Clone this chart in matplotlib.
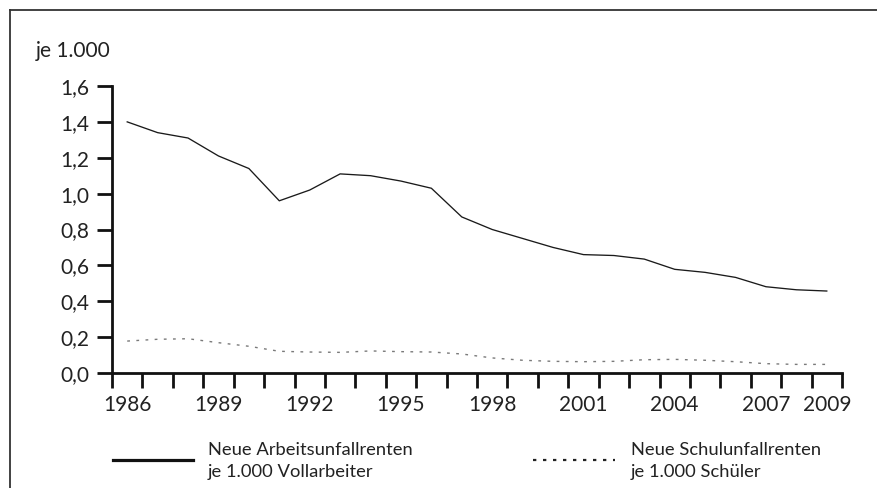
import matplotlib
matplotlib.use("Agg")
import matplotlib.pyplot as plt
from matplotlib.lines import Line2D

# Data (per 1.000)
years = list(range(1986, 2010))
arbeitsRenten = [1.40, 1.34, 1.31, 1.21, 1.14, 0.96, 1.02, 1.11, 1.10, 1.07, 1.03, 0.87,
                 0.80, 0.75, 0.70, 0.66, 0.655, 0.635, 0.578, 0.561, 0.533, 0.481, 0.464, 0.457]
schulRenten = [0.178, 0.188, 0.191, 0.169, 0.149, 0.121, 0.117, 0.115, 0.123, 0.119, 0.117, 0.106,
               0.084, 0.071, 0.065, 0.063, 0.065, 0.074, 0.076, 0.071, 0.063, 0.052, 0.048, 0.048]

yTicks = [0.0, 0.2, 0.4, 0.6, 0.8, 1.0, 1.2, 1.4, 1.6]
yLabels = ["0,0", "0,2", "0,4", "0,6", "0,8", "1,0", "1,2", "1,4", "1,6"]
xLabelYears = [1986, 1989, 1992, 1995, 1998, 2001, 2004, 2007, 2009]

legendArbeit = "Neue Arbeitsunfallrenten\nje 1.000 Vollarbeiter"
legendSchule = "Neue Schulunfallrenten\nje 1.000 Schüler"

plt.rcParams['font.family'] = ['Lato', 'DejaVu Sans']
textColor = "#222222"

W, H = 877, 488
fig = plt.figure(figsize=(W / 100, H / 100), dpi=100)

# axes placed in pixel units of the reference
ax = fig.add_axes([112 / W, 1 - 373 / H, (842 - 112) / W, (373 - 86) / H])

ax.plot(years, arbeitsRenten, color="#1a1a1a", linewidth=0.95)
ax.plot(years, schulRenten, color="#7a7a7a", linewidth=1.0, linestyle=(0, (2.0, 4.6)))

ax.set_xlim(1985.5, 2009.5)
ax.set_ylim(0, 1.6)

for side in ["top", "right"]:
    ax.spines[side].set_visible(False)
for side in ["left", "bottom"]:
    ax.spines[side].set_linewidth(2.0)
    ax.spines[side].set_color("#111111")
    ax.spines[side].set_capstyle("projecting")

ax.set_yticks(yTicks)
ax.set_yticklabels(yLabels)
ax.tick_params(axis="y", length=10.8, width=2.0, pad=5.5, labelsize=15, colors="#111111",
               labelcolor=textColor)

# year labels sit between the tick marks
ax.set_xticks(xLabelYears)
ax.set_xticklabels([str(y) for y in xLabelYears])
ax.set_xticks([y - 0.5 for y in years] + [2009.5], minor=True)
ax.tick_params(axis="x", which="major", length=0, pad=16, labelsize=15, labelcolor=textColor)
ax.tick_params(axis="x", which="minor", length=10.8, width=2.0, color="#111111")

fig.text(36 / W, 1 - 51 / H, "je 1.000", fontsize=15, color=textColor, va="center", ha="left")

# legend drawn by hand below the axis
fig.add_artist(Line2D([113 / W, 193 / W], [1 - 460 / H, 1 - 460 / H], color="#111111",
                      linewidth=2.3, transform=fig.transFigure))
fig.text(208 / W, 1 - 461 / H, legendArbeit, fontsize=13.2, color=textColor, va="center",
         ha="left", linespacing=1.45)
fig.add_artist(Line2D([533 / W, 615 / W], [1 - 460 / H, 1 - 460 / H], color="#222222",
                      linewidth=1.6, linestyle=(0, (1.5, 3.0)), transform=fig.transFigure))
fig.text(631 / W, 1 - 461 / H, legendSchule, fontsize=13.2, color=textColor, va="center",
         ha="left", linespacing=1.45)

# outer frame (top and left edge visible)
fig.add_artist(Line2D([9.5 / W, 1.0], [1 - 10 / H, 1 - 10 / H], color="#333333",
                      linewidth=1.3, transform=fig.transFigure))
fig.add_artist(Line2D([9.5 / W, 9.5 / W], [1 - 10 / H, 0.0], color="#333333",
                      linewidth=1.3, transform=fig.transFigure))

fig.savefig("out.png", dpi=100)
